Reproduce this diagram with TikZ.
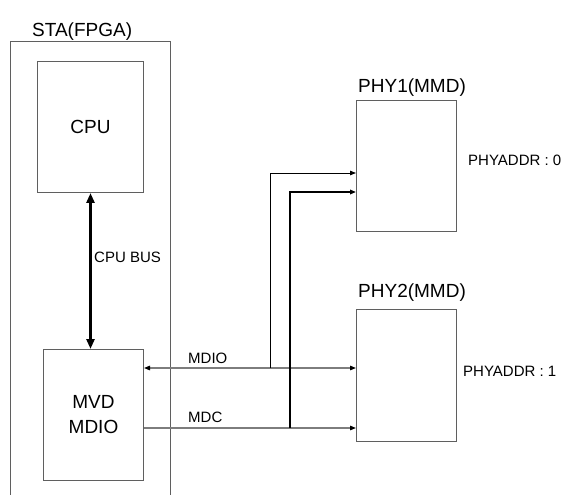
\documentclass[tikz,border=0pt]{standalone}
\usepackage{fontspec}
\setmainfont{Liberation Sans}
\usetikzlibrary{arrows.meta}
\definecolor{FrameGray}{RGB}{95,95,95}
\definecolor{WireGray}{RGB}{125,125,125}
\tikzset{
  block/.style={draw=FrameGray,line width=1pt,minimum width=100pt,
    minimum height=131pt,anchor=north west,inner sep=0pt,align=center,
    font=\fontsize{19}{25}\selectfont},
  title/.style={anchor=base west,inner sep=0pt,font=\fontsize{19}{22}\selectfont},
  tag/.style={anchor=west,inner sep=0pt,font=\fontsize{15}{18}\selectfont},
  bus/.style={{Triangle[length=10pt,width=8pt]}-{Triangle[length=10pt,width=8pt]},
    line width=2.6pt,black},
  wire/.style={line width=1.3pt,WireGray},
  tap/.style={line width=0.9pt,black},
  >={Triangle[length=6pt,width=4.5pt,black]}
}
\begin{document}
\begin{tikzpicture}[x=1pt,y=-1pt]
      \useasboundingbox (0,0) rectangle (566,495);
      \node[block,minimum width=160pt,minimum height=480pt] (sta) at (10,41) {};
      \node[block,minimum width=106pt] (cpu) at (37,61) {CPU};
      \node[block] (mvd) at (43,349) {MVD\\MDIO};
      \node[block] (phy1) at (356,100) {};
      \node[block,minimum height=132pt] (phy2) at (356,309) {};
      \node[title] (stalabel) at (32,37) {STA(FPGA)};
      \node[title] (phy1label) at (358,93) {PHY1(MMD)};
      \node[title] (phy2label) at (358,298) {PHY2(MMD)};
      \node[tag] (addr0) at (468,160) {PHYADDR : 0};
      \node[tag] (addr1) at (463,371) {PHYADDR : 1};
      \node[tag] (buslabel) at (94,257) {CPU BUS};
      \node[tag] (mdiolabel) at (188,358) {MDIO};
      \node[tag] (mdclabel) at (188,417) {MDC};
      % wires
      \coordinate (mdiojoin) at (270,368);
      \coordinate (mdcjoin) at (290,428);
      \coordinate (mdioup) at (270,173);
      \coordinate (mdcup) at (290,192);
      \draw[bus] (cpu.south) -- (cpu.south |- mvd.north);
      \draw[wire,<->] (mvd.east |- mdiojoin) -- (phy2.west |- mdiojoin);
      \draw[wire,->] (mvd.east |- mdcjoin) -- (phy2.west |- mdcjoin);
      \draw[tap,->] (mdiojoin) -- (mdioup) -- (phy1.west |- mdioup);
      \draw[tap,line width=2pt,->] (mdcjoin) -- (mdcup) -- (phy1.west |- mdcup);
    \end{tikzpicture}
\end{document}
